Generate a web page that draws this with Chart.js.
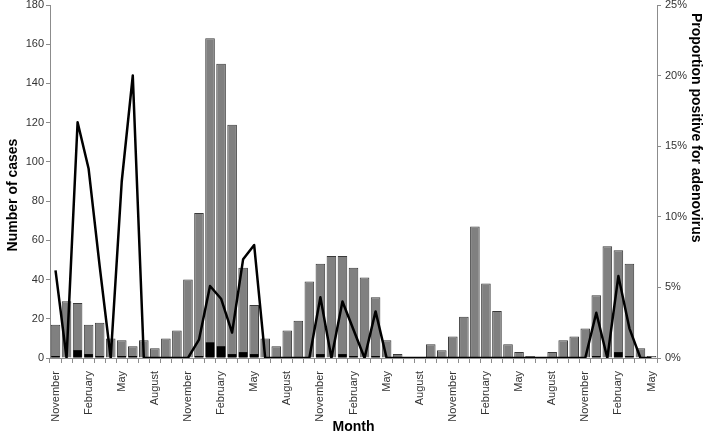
<!DOCTYPE html>
<html>
<head>
<meta charset="utf-8">
<script src="https://cdn.jsdelivr.net/npm/chart.js@4.4.0/dist/chart.umd.min.js"></script>
<style>
    html, body { margin: 0; padding: 0; background: #fff; }
</style>
</head>
<body>
<canvas id="casesChart" width="709" height="434"></canvas>
<script>
// Months, from November of the first season to May of the last one
const months = [
    'November', 'December', 'January', 'February', 'March', 'April', 'May', 'June', 'July', 'August', 'September', 'October',
    'November', 'December', 'January', 'February', 'March', 'April', 'May', 'June', 'July', 'August', 'September', 'October',
    'November', 'December', 'January', 'February', 'March', 'April', 'May', 'June', 'July', 'August', 'September', 'October',
    'November', 'December', 'January', 'February', 'March', 'April', 'May', 'June', 'July', 'August', 'September', 'October',
    'November', 'December', 'January', 'February', 'March', 'April', 'May'
];
// only these months get a label under the axis
const labelledMonths = ['November', 'February', 'May', 'August'];

// total number of cases per month
const cases = [17, 29, 28, 17, 18, 10, 9, 6, 9, 5,
               10, 14, 40, 74, 163, 150, 119, 46, 27, 10,
               6, 14, 19, 39, 48, 52, 52, 46, 41, 31,
               9, 2, 0, 0, 7, 4, 11, 21, 67, 38,
               24, 7, 3, 1, 0, 3, 9, 11, 15, 32,
               57, 55, 48, 5, 1];

// adenovirus positive cases per month
const positives = [1, 0, 4, 2, 1, 0, 1, 1, 0, 0,
                   0, 0, 0, 1, 8, 6, 2, 3, 2, 0,
                   0, 0, 0, 0, 2, 0, 2, 1, 0, 1,
                   0, 0, 0, 0, 0, 0, 0, 0, 0, 0,
                   0, 0, 0, 0, 0, 0, 0, 0, 0, 1,
                   0, 3, 1, 0, 0];

// proportion positive for adenovirus (%)
const proportion = [6.2, 0, 16.7, 13.4, 6.5, 0, 12.5, 20.0, 0, 0,
                    0, 0, 0, 1.3, 5.1, 4.2, 1.8, 7.0, 8.0, 0,
                    0, 0, 0, 0, 4.3, 0, 4.0, 2.0, 0, 3.3,
                    0, 0, 0, 0, 0, 0, 0, 0, 0, 0,
                    0, 0, 0, 0, 0, 0, 0, 0, 0, 3.2,
                    0, 5.8, 2.1, 0, 0];

const casesTicks = { min: 0, max: 180, step: 20 };
const proportionTicks = { min: 0, max: 25, step: 5 };

const fontFamily = "'Liberation Sans', Arial, sans-serif";
Chart.defaults.font.family = fontFamily;

const axisGray = '#8c8c8c';
const tickFont = { size: 11 };

// axis titles, placed like in the original figure
const axisTitles = {
    id: 'axisTitles',
    afterDraw(chart) {
        const c = chart.ctx;
        c.save();
        c.fillStyle = '#000';
        c.font = 'bold 14px ' + fontFamily;
        c.textBaseline = 'middle';

        c.textAlign = 'center';
        c.fillText('Month', (chart.chartArea.left + chart.chartArea.right) / 2, 427);

        c.save();
        c.translate(13, 195);
        c.rotate(-Math.PI / 2);
        c.fillText('Number of cases', 0, 0);
        c.restore();

        c.save();
        c.translate(696, 13);
        c.rotate(Math.PI / 2);
        c.textAlign = 'left';
        c.fillText('Proportion positive for adenovirus', 0, 0);
        c.restore();

        c.restore();
    }
};

const ctx = document.getElementById('casesChart').getContext('2d');
const casesChart = new Chart(ctx, {
    data: {
        labels: months,
        datasets: [{
            type: 'line',
            label: 'Proportion positive',
            data: proportion,
            yAxisID: 'y1',
            borderColor: '#000',
            borderWidth: 2.5,
            borderJoinStyle: 'round',
            pointRadius: 0,
            tension: 0,
            order: 0
        }, {
            type: 'bar',
            label: 'Adenovirus positive',
            data: positives,
            yAxisID: 'y',
            backgroundColor: '#000',
            borderWidth: 0,
            grouped: false,
            categoryPercentage: 1,
            barPercentage: 0.78,
            order: 1
        }, {
            type: 'bar',
            label: 'Cases',
            data: cases,
            yAxisID: 'y',
            backgroundColor: '#808080',
            borderColor: '#3a3a3a',
            borderWidth: 1,
            grouped: false,
            categoryPercentage: 1,
            barPercentage: 0.87,
            order: 2
        }]
    },
    options: {
        responsive: false,
        animation: false,
        layout: { padding: 0 },
        plugins: {
            legend: { display: false },
            tooltip: { enabled: false }
        },
        scales: {
            x: {
                type: 'category',
                offset: true,
                grid: { offset: true, drawOnChartArea: false, tickLength: 5, color: axisGray },
                border: { color: axisGray },
                ticks: {
                    autoSkip: false,
                    minRotation: 90,
                    maxRotation: 90,
                    padding: 8,
                    color: '#333',
                    font: tickFont,
                    callback: function(value) {
                        const m = this.getLabelForValue(value);
                        return labelledMonths.includes(m) ? m : '';
                    }
                },
                afterFit: function(scale) {
                    scale.height = 76;
                    scale.paddingLeft = 0;
                    scale.paddingRight = 0;
                }
            },
            y: {
                position: 'left',
                min: casesTicks.min,
                max: casesTicks.max,
                grid: { drawOnChartArea: false, tickLength: 4, color: axisGray },
                border: { color: axisGray },
                ticks: { stepSize: casesTicks.step, padding: 2, color: '#333', font: tickFont },
                afterFit: function(scale) {
                    scale.width = 50;
                    scale.paddingTop = 5;
                    scale.paddingBottom = 0;
                }
            },
            y1: {
                position: 'right',
                min: proportionTicks.min,
                max: proportionTicks.max,
                grid: { drawOnChartArea: false, tickLength: 4, color: axisGray },
                border: { color: axisGray },
                ticks: {
                    stepSize: proportionTicks.step,
                    padding: 4,
                    color: '#333',
                    font: tickFont,
                    callback: value => value + '%'
                },
                afterFit: function(scale) {
                    scale.width = 52;
                    scale.paddingTop = 5;
                    scale.paddingBottom = 0;
                }
            }
        }
    },
    plugins: [axisTitles]
});
</script>
</body>
</html>
